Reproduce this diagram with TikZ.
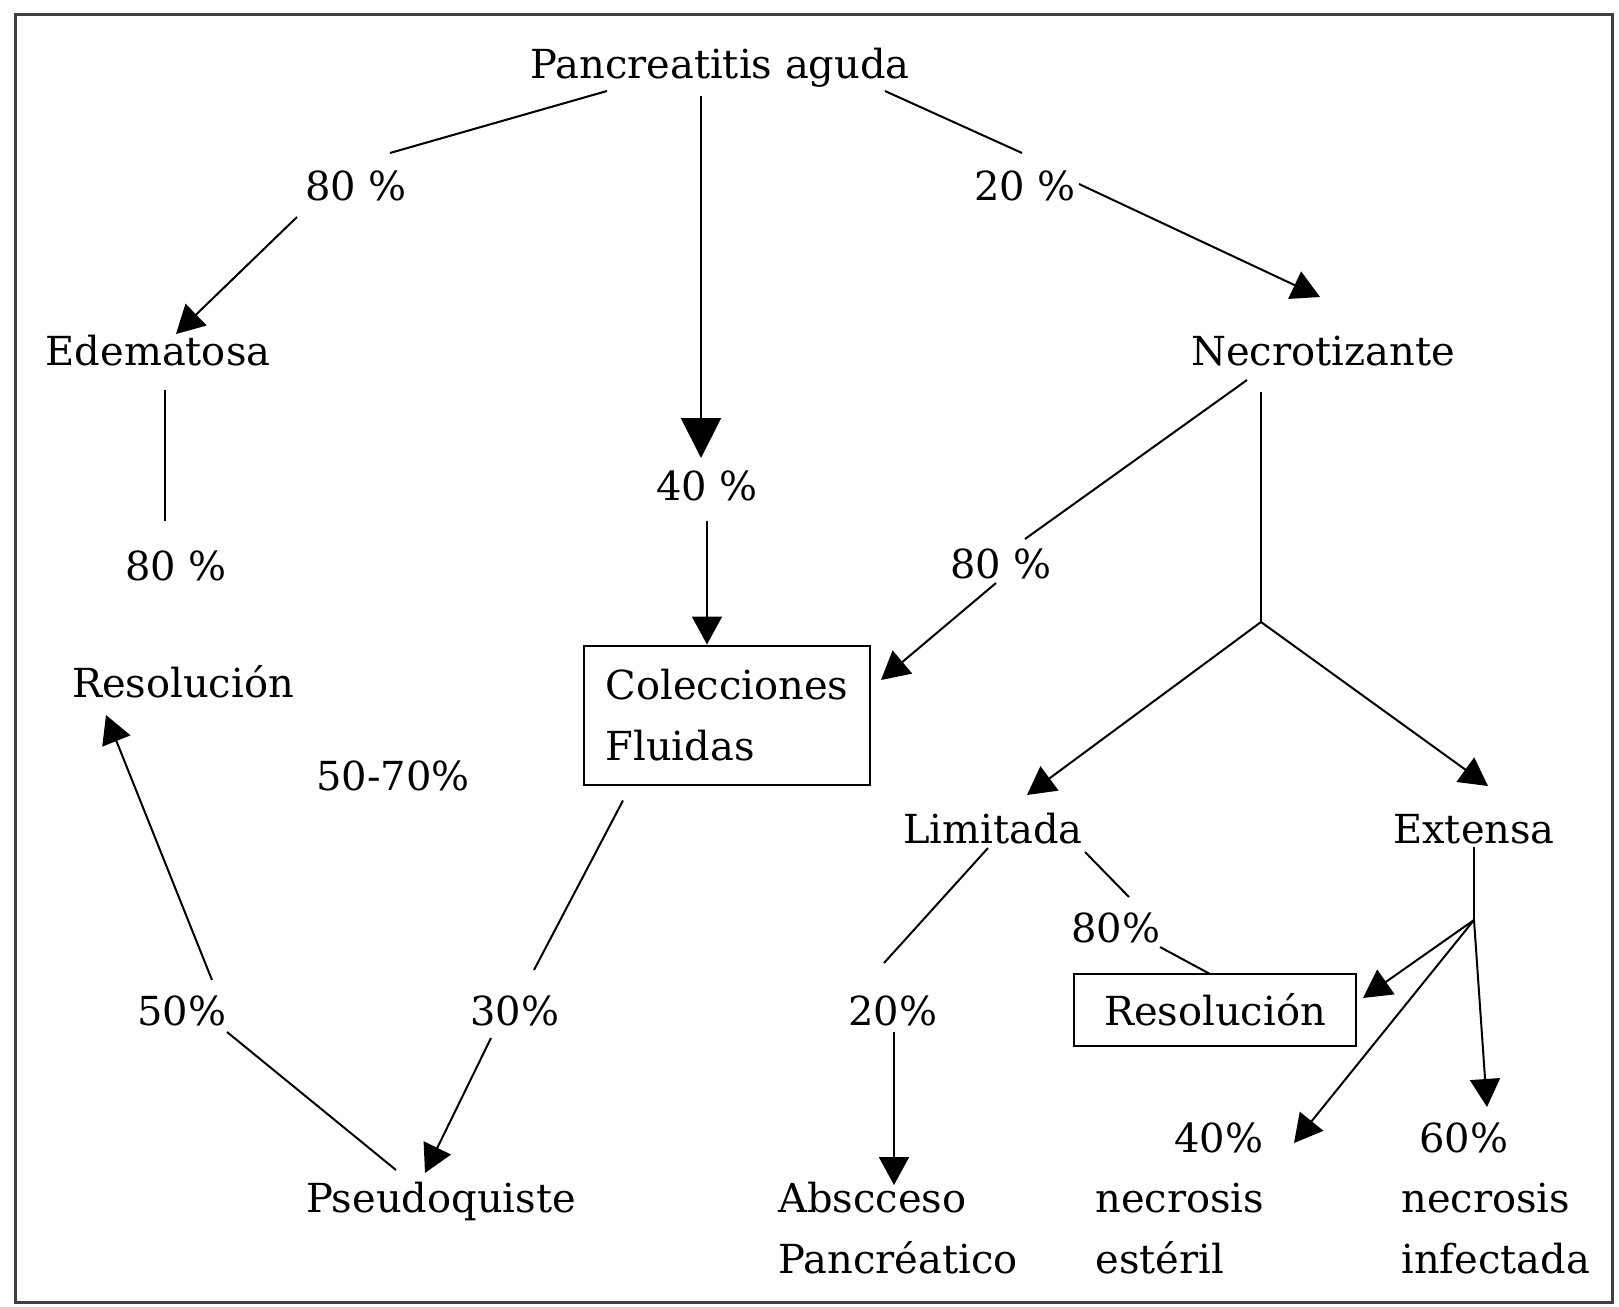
\documentclass[tikz,border=0pt]{standalone}
\usepackage{fontspec}
\setmainfont{DejaVu Serif}
\usetikzlibrary{arrows.meta,calc}
\begin{document}
\begin{tikzpicture}[x=0.5pt,y=-0.5pt,
  txt/.style={font=\fontsize{20pt}{30.5pt}\selectfont},
  lbl/.style={txt,anchor=base,inner sep=0pt},
  two/.style={txt,anchor=base west,inner sep=0pt,align=left},
  boxn/.style={txt,draw,line width=1pt,inner sep=0pt,align=left},
  frame/.style={draw=black!75,line width=1.5pt},
  con/.style={line width=1pt},
  arr/.style={con,-{Triangle[length=14pt,width=15pt]}},
  bigarr/.style={con,-{Triangle[length=20pt,width=20pt]}}]

\useasboundingbox (0,0) rectangle (1619,1307);
\draw[frame] (15,14) rectangle (1612,1302);

% nodes
\node[lbl] (pa) at (720,78) {Pancreatitis aguda};
\node[lbl] (p80a) at (356,200) {80 \%};
\node[lbl] (p20a) at (1025,200) {20 \%};
\node[lbl] (ede) at (158,365) {Edematosa};
\node[lbl] (nec) at (1323,365) {Necrotizante};
\node[lbl] (p40a) at (707,500) {40 \%};
\node[lbl] (p80b) at (176,580) {80 \%};
\node[lbl] (p80c) at (1001,578) {80 \%};
\node[boxn,minimum width=143pt,minimum height=69.5pt] (col) at (727,715) {Colecciones\\Fluidas};
\node[lbl] (resL) at (183,697) {Resolución};
\node[lbl] (p5070) at (393,790) {50-70\%};
\node[lbl] (lim) at (993,843) {Limitada};
\node[lbl] (ext) at (1474,843) {Extensa};
\node[lbl] (p80d) at (1116,942) {80\%};
\node[lbl] (p50) at (182,1025) {50\%};
\node[lbl] (p30) at (515,1025) {30\%};
\node[lbl] (p20b) at (893,1025) {20\%};
\node[boxn,align=center,minimum width=141pt,minimum height=36pt] (resR) at (1215,1010) {Resolución};
\node[lbl] (p40b) at (1219,1152) {40\%};
\node[lbl] (p60) at (1464,1152) {60\%};
\node[lbl] (pseudo) at (441,1212) {Pseudoquiste};
\node[two] (absc) at (778,1273) {Abscceso\\Pancréatico};
\node[two] (nest) at (1095,1273) {necrosis\\estéril};
\node[two] (ninf) at (1401,1273) {necrosis\\infectada};

\coordinate (necb) at (1261,622);
\coordinate (extb) at (1474,920);

% connectors
\draw[con] ($(pa.base)+(-113,13)$) -- ($(p80a.base)+(34,-47)$);
\draw[arr] ($(p80a.base)+(-59,17)$) -- ($(ede.base)+(18,-31)$);
\draw[bigarr] ($(pa.base)+(-19,18)$) -- ($(p40a.base)+(-6,-42)$);
\draw[con] ($(pa.base)+(165,13)$) -- ($(p20a.base)+(-3,-47)$);
\draw[arr] ($(p20a.base)+(54,-16)$) -- ($(nec.base)+(-3,-68)$);
\draw[con] ($(ede.base)+(7,25)$) -- ($(p80b.base)+(-11,-59)$);
\draw[arr] ($(p40a.base)+(0,21)$) -- ($(col.north)+(-20,0)$);
\draw[con] ($(nec.base)+(-76,15)$) -- ($(p80c.base)+(24,-39)$);
\draw[arr] ($(p80c.base)+(-5,5)$) -- ($(col.east)+(10,-35)$);
\draw[con] ($(nec.base)+(-62,27)$) -- (necb);
\draw[arr] (necb) -- ($(lim.base)+(34,-48)$);
\draw[arr] (necb) -- ($(ext.base)+(14,-57)$);
\draw[con] ($(lim.base)+(-5,5)$) -- ($(p20b.base)+(-9,-62)$);
\draw[con] ($(lim.base)+(92,9)$) -- ($(p80d.base)+(13,-45)$);
\draw[con] ($(p80d.base)+(44,5)$) -- ($(resR.north)+(-5,1)$);
\draw[arr] ($(p20b.base)+(1,7)$) -- ($(absc.base west)+(116,-88)$);
\draw[con] ($(ext.base)+(0,4)$) -- (extb);
\draw[arr] (extb) -- ($(resR.east)+(6,-12)$);
\draw[arr] (extb) -- ($(p40b.base)+(75,-9)$);
\draw[arr] (extb) -- ($(p60.base)+(23,-45)$);
\draw[con] ($(col.south)+(-104,15)$) -- ($(p30.base)+(19,-55)$);
\draw[arr] ($(p30.base)+(-24,13)$) -- ($(pseudo.base)+(-16,-39)$);
\draw[con] ($(pseudo.base)+(-45,-42)$) -- ($(p50.base)+(45,7)$);
\draw[arr] ($(p50.base)+(30,-45)$) -- ($(resL.base)+(-77,18)$);
\end{tikzpicture}
\end{document}
